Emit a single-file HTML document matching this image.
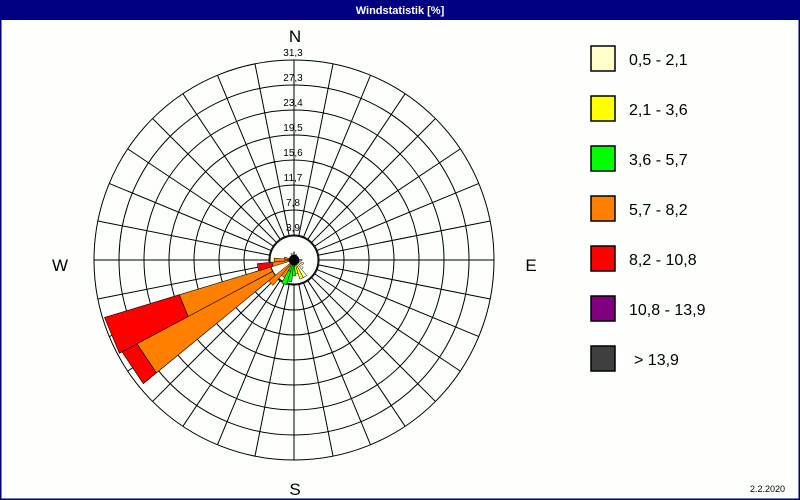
<!DOCTYPE html>
<html><head><meta charset="utf-8"><style>
body{margin:0;background:#fff}
svg{display:block}
text{font-family:"Liberation Sans",sans-serif}
</style></head><body>
<svg width="800" height="500" viewBox="0 0 800 500" xmlns="http://www.w3.org/2000/svg">
<rect x="0" y="0" width="800" height="500" fill="#fdfffd"/>
<rect x="0.5" y="0.5" width="799" height="499" fill="none" stroke="#000080" stroke-width="2"/>
<rect x="0" y="0" width="800" height="20" fill="#000080"/>
<text x="400" y="14" font-size="11" font-weight="bold" fill="#fff" text-anchor="middle">Windstatistik [%]</text>
<g id="grid" fill="none" stroke="#000" stroke-width="1"></g>
<g id="bars" stroke="#000" stroke-width="0.6"></g>
<circle cx="294" cy="260" r="24" fill="#fdfffd" stroke="#000" stroke-width="1" id="inner"/>
<g id="bars2" stroke="#000" stroke-width="0.5"></g>
<g font-size="10" text-anchor="middle" fill="#000">
<text x="293" y="56">31,3</text><text x="293" y="81">27,3</text><text x="293" y="106">23,4</text>
<text x="293" y="131">19,5</text><text x="293" y="156">15,6</text><text x="293" y="181">11,7</text>
<text x="293" y="206">7,8</text><text x="293" y="231">3,9</text>
</g>
<g font-size="17" fill="#000" text-anchor="middle">
<text x="295" y="42">N</text><text x="60" y="271">W</text><text x="531" y="271">E</text><text x="295" y="495">S</text>
</g>
<g stroke="#000" stroke-width="1.5">
<rect x="591" y="46" width="24" height="25" fill="#ffffcc"/>
<rect x="591" y="96" width="24" height="25" fill="#ffff00"/>
<rect x="591" y="146" width="24" height="25" fill="#00ff00"/>
<rect x="591" y="196" width="24" height="25" fill="#ff8000"/>
<rect x="591" y="246" width="24" height="25" fill="#ff0000"/>
<rect x="591" y="296" width="24" height="25" fill="#800080"/>
<rect x="591" y="346" width="24" height="25" fill="#404040"/>
</g>
<g font-size="16" fill="#000">
<text x="629" y="65">0,5 - 2,1</text><text x="629" y="115">2,1 - 3,6</text>
<text x="629" y="165">3,6 - 5,7</text><text x="629" y="215">5,7 - 8,2</text>
<text x="629" y="265">8,2 - 10,8</text><text x="629" y="315">10,8 - 13,9</text>
<text x="634" y="365">&gt; 13,9</text>
</g>
<text x="785" y="492" font-size="9" text-anchor="end" fill="#000">2.2.2020</text>
<script>
var cx=294,cy=260,NS="http://www.w3.org/2000/svg";
var g=document.getElementById('grid');
function el(p,tag,a){var e=document.createElementNS(NS,tag);for(var k in a)e.setAttribute(k,a[k]);p.appendChild(e);return e;}
for(var r=25;r<=200;r+=25)el(g,'circle',{cx:cx,cy:cy,r:r});
for(var i=0;i<32;i++){var a=i*11.25*Math.PI/180;
el(g,'line',{x1:cx+25*Math.sin(a),y1:cy-25*Math.cos(a),x2:cx+200*Math.sin(a),y2:cy-200*Math.cos(a)});}
function P(b,r){var a=b*Math.PI/180;return (cx+r*Math.sin(a)).toFixed(1)+","+(cy-r*Math.cos(a)).toFixed(1);}
function wedge(p,b,r0,r1,c){var b0=b-5.625,b1=b+5.625;
el(p,'polygon',{points:[P(b0,r0),P(b0,r1),P(b1,r1),P(b1,r0)].join(" "),fill:c});}
var B=document.getElementById('bars'),B2=document.getElementById('bars2');
var big=[[247.5,0,120,'#ff8000'],[247.5,120,198,'#ff0000'],[236.25,0,178,'#ff8000'],[236.25,178,195,'#ff0000']];
big.forEach(function(w){wedge(B,w[0],w[1],w[2],w[3]);});
var small=[[258.75,0,22,'#ff8000'],[258.75,22,37,'#ff0000'],[225,0,33,'#ff8000'],[213.75,0,20,'#ff8000'],
[202.5,0,12,'#00ff00'],[202.5,12,26,'#00ff00'],[191.25,0,22,'#00ff00'],[180,0,16,'#00ff00'],
[168.75,0,14,'#ffff00'],[157.5,0,20,'#ffff00'],[146.25,0,20,'#ffffcc'],[135,0,12,'#ffffcc'],
[270,0,20,'#ff8000'],[281.25,0,10,'#ff8000'],[0,0,8,'#ffffcc'],[337.5,0,7,'#ffffcc'],[22.5,0,6,'#ffffcc'],[90,0,8,'#ffffcc'],[112.5,0,10,'#ffffcc']];
small.forEach(function(w){wedge(B2,w[0],w[1],w[2],w[3]);});
for(var k=0;k<32;k++)wedge(B2,k*11.25,0,5,'#000');
</script>
</svg>
</body></html>
